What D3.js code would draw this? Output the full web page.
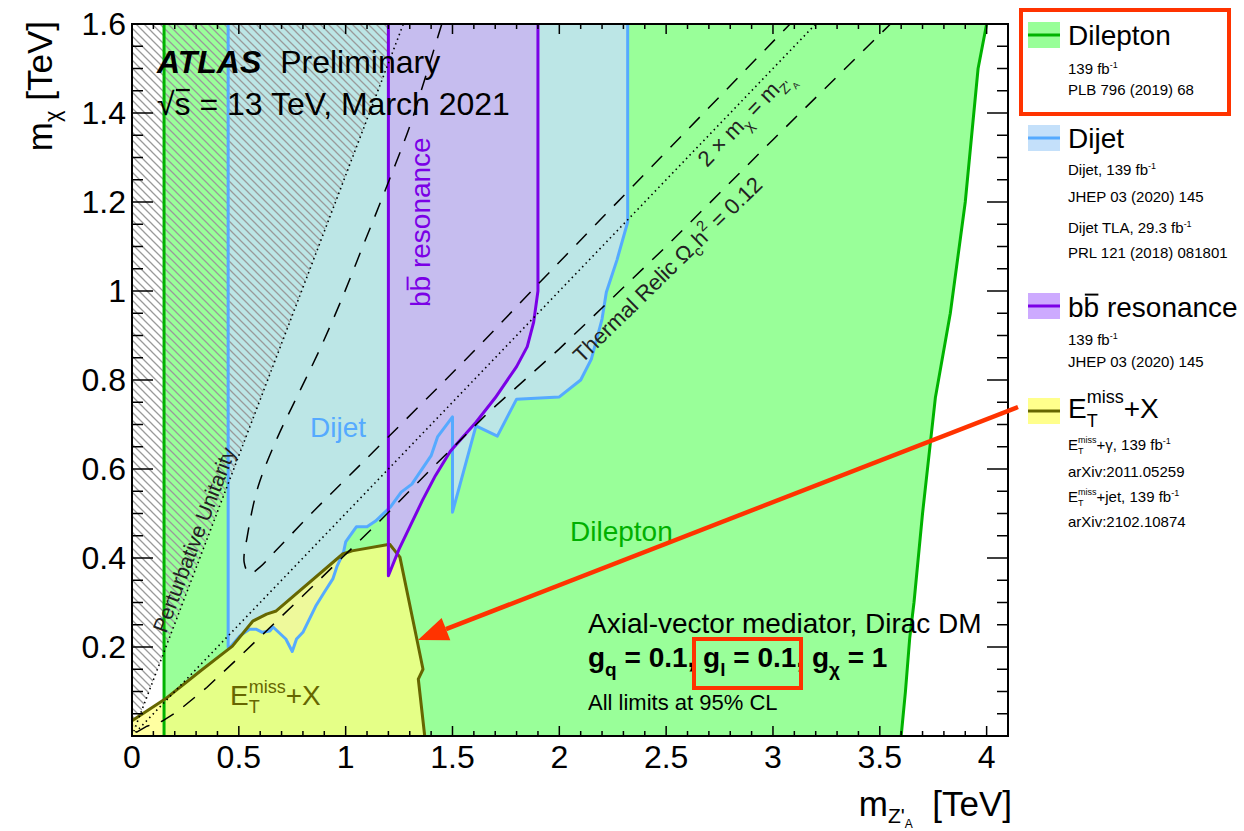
<!DOCTYPE html>
<meta charset="utf-8">
<style>
body { margin: 0; background: #fff; }
svg text { font-family: "Liberation Sans", Arial, Helvetica, sans-serif; white-space: pre; }
</style>
<svg id="plot" width="1244" height="831"></svg>
<script src="https://cdn.jsdelivr.net/npm/d3@7"></script>
<script>

// ---- data, everything in TeV : [m_Z'A, m_chi] ----
var xTicks = [0, 0.5, 1, 1.5, 2, 2.5, 3, 3.5, 4];
var xTickLabels = ["0", "0.5", "1", "1.5", "2", "2.5", "3", "3.5", "4"];
var yTicks = [0.2, 0.4, 0.6, 0.8, 1.0, 1.2, 1.4, 1.6];
var yTickLabels = ["0.2", "0.4", "0.6", "0.8", "1", "1.2", "1.4", "1.6"];

var dileptonLeft = [[0.15, 0], [0.15, 1.6]];
var dileptonRight = [[4.0, 1.6], [3.96, 1.5], [3.90, 1.2], [3.83, 0.95], [3.76, 0.76], [3.70, 0.5],
  [3.66, 0.3], [3.64, 0.22], [3.635, 0.19], [3.62, 0.1], [3.60, 0]];

var dijetEdge = [[0.45, 1.6], [0.45, 0.2], [0.46, 0.2], [0.505, 0.225], [0.55, 0.24], [0.58, 0.24],
  [0.61, 0.233], [0.645, 0.236], [0.66, 0.245], [0.72, 0.218], [0.75, 0.19], [0.77, 0.218],
  [0.80, 0.233], [0.86, 0.292], [0.90, 0.323], [0.94, 0.353], [0.96, 0.382], [0.99, 0.413],
  [1.0, 0.436], [1.05, 0.47], [1.10, 0.47], [1.14, 0.483], [1.21, 0.515], [1.26, 0.548],
  [1.31, 0.566], [1.40, 0.63], [1.43, 0.672], [1.50, 0.717], [1.50, 0.503], [1.61, 0.697],
  [1.71, 0.674], [1.80, 0.757], [2.0, 0.762], [2.10, 0.80], [2.15, 0.847], [2.20, 0.937],
  [2.22, 0.997], [2.27, 1.07], [2.32, 1.155], [2.32, 1.6]];

var bbEdge = [[1.2, 1.6], [1.2, 0.36], [1.25, 0.42], [1.30, 0.47], [1.36, 0.53], [1.42, 0.585],
  [1.49, 0.64], [1.61, 0.705], [1.70, 0.76], [1.80, 0.83], [1.85, 0.875], [1.88, 0.93],
  [1.9, 1.0], [1.9, 1.6]];

var etmissEdge = [[0, 0.034], [0.155, 0.083], [0.32, 0.146], [0.47, 0.202], [0.565, 0.258],
  [0.63, 0.274], [0.675, 0.281], [0.986, 0.409], [1.03, 0.416], [1.206, 0.431], [1.254, 0.402],
  [1.333, 0.218], [1.362, 0.15], [1.34, 0.128], [1.37, 0.0]];

var unitarityLine = [[0, 0], [1.27, 1.6]];
var twoMchiLine = [[0, 0], [3.2, 1.6]];

var relicUpper = [[1.45, 1.6], [1.36, 1.46], [1.30, 1.37], [1.18, 1.22], [1.08, 1.10], [0.98, 0.98],
  [0.88, 0.87], [0.78, 0.77], [0.68, 0.67], [0.59, 0.56], [0.54, 0.45], [0.525, 0.39],
  [0.55, 0.365], [0.60, 0.38], [0.66, 0.41], [0.86, 0.51], [1.08, 0.615], [1.58, 0.855],
  [1.95, 1.04], [3.08, 1.6]];
var relicLower = [[0.02, 0.008], [0.07, 0.022], [0.14, 0.033], [0.21, 0.054], [0.35, 0.109],
  [0.49, 0.172], [0.8, 0.315], [1.16, 0.483], [1.39, 0.595], [1.67, 0.728], [2.0, 0.87],
  [2.5, 1.10], [3.0, 1.34], [3.55, 1.6]];

// ---- setup ----
var svg = d3.select("svg");
var x = d3.scaleLinear().domain([0, 4.1]).range([132, 1008]);
var y = d3.scaleLinear().domain([0, 1.6]).range([736, 24]);
var line = d3.line().x(function(d) { return x(d[0]); }).y(function(d) { return y(d[1]); });
var smooth = d3.line().x(function(d) { return x(d[0]); }).y(function(d) { return y(d[1]); })
    .curve(d3.curveCatmullRom);

var red = "#ff3300";

var defs = svg.append("defs");
defs.append("pattern")
    .attr("id", "hatch")
    .attr("patternUnits", "userSpaceOnUse")
    .attr("width", 8).attr("height", 8)
  .append("path")
    .attr("d", "M-1,-1 L9,9 M-1,7 L1,9 M7,-1 L9,1")
    .attr("stroke", "#9a9a9a")
    .attr("stroke-width", 1.3);

var g = svg.append("g");

// fills
g.append("path").attr("d", line(dileptonLeft.concat(dileptonRight)) + "Z").attr("fill", "#99ff99");
g.append("path").attr("d", line(dijetEdge) + "Z").attr("fill", "#bce6e6");
g.append("path").attr("d", line([[0, 0], [0, 1.6], unitarityLine[1]]) + "Z").attr("fill", "url(#hatch)");
g.append("path").attr("d", line(etmissEdge.concat([[0, 0]])) + "Z").attr("fill", "#ffff80").attr("fill-opacity", 0.74);
g.append("path").attr("d", line(bbEdge) + "Z").attr("fill", "#c6bdef");

// contour lines
function contour(pts, col) {
  g.append("path").attr("d", line(pts)).attr("fill", "none")
    .attr("stroke", col).attr("stroke-width", 3).attr("stroke-linejoin", "round");
}
contour(dileptonLeft, "#00b300");
contour(dileptonRight, "#00b300");
contour(dijetEdge, "#55aaff");
contour(etmissEdge, "#666600");
contour(bbEdge, "#7b00e6");

// reference curves
g.append("path").attr("d", line(unitarityLine)).attr("fill", "none")
  .attr("stroke", "#000").attr("stroke-width", 1.6).attr("stroke-dasharray", "1.5,3.5");
g.append("path").attr("d", line(twoMchiLine)).attr("fill", "none")
  .attr("stroke", "#000").attr("stroke-width", 1.6).attr("stroke-dasharray", "1.5,3.5");
g.append("path").attr("d", smooth(relicUpper)).attr("fill", "none")
  .attr("stroke", "#000").attr("stroke-width", 1.5).attr("stroke-dasharray", "15,12");
g.append("path").attr("d", line(relicLower)).attr("fill", "none")
  .attr("stroke", "#000").attr("stroke-width", 1.5).attr("stroke-dasharray", "15,12");

// frame and ticks
var x0 = x(0), x1 = x(4.1), y0 = y(0), y1 = y(1.6);
var ax = svg.append("g").attr("stroke", "#000").attr("stroke-width", 1.5);
d3.range(0, 33).forEach(function(i) {
  var yy = y(i * 0.05), len = i % 4 === 0 ? 21 : 11;
  ax.append("line").attr("x1", x0).attr("x2", x0 + len).attr("y1", yy).attr("y2", yy);
  ax.append("line").attr("x1", x1).attr("x2", x1 - len).attr("y1", yy).attr("y2", yy);
});
d3.range(0, 42).forEach(function(i) {
  var xx = x(i * 0.1), len = i % 5 === 0 ? 10 : 5;
  ax.append("line").attr("x1", xx).attr("x2", xx).attr("y1", y0).attr("y2", y0 - len);
  ax.append("line").attr("x1", xx).attr("x2", xx).attr("y1", y1).attr("y2", y1 + len);
});
svg.append("rect").attr("x", x0).attr("y", y1).attr("width", x1 - x0).attr("height", y0 - y1)
  .attr("fill", "none").attr("stroke", "#000").attr("stroke-width", 2);

svg.selectAll(".xl").data(xTicks).enter().append("text")
  .attr("x", function(d) { return x(d); }).attr("y", 768)
  .attr("text-anchor", "middle").style("font-size", "32px")
  .text(function(d, i) { return xTickLabels[i]; });
svg.selectAll(".yl").data(yTicks).enter().append("text")
  .attr("x", 126).attr("y", function(d) { return y(d) + 11; })
  .attr("text-anchor", "end").style("font-size", "32px")
  .text(function(d, i) { return yTickLabels[i]; });

// rich text helper (sub/superscripts built from pieces)
function rich(parent, px, py, parts, o) {
  var outer = parent.append("g")
    .attr("transform", "translate(" + px + "," + py + ")" + (o.rotate ? " rotate(" + o.rotate + ")" : ""));
  var inner = outer.append("g");
  var cx = 0, hold = null;
  parts.forEach(function(p) {
    var size = p.size || o.size;
    cx += p.dx || 0;
    var col = p.fill || o.fill || "#000";
    var t = inner.append("text")
      .attr("x", cx).attr("y", p.dy || 0)
      .attr("fill", col)
      .style("font-size", size + "px")
      .style("font-weight", (p.bold || o.bold) ? "bold" : "normal")
      .style("font-style", p.italic ? "italic" : "normal")
      .text(p.t);
    var w = t.node().getComputedTextLength();
    if (p.bar) {
      inner.append("line").attr("x1", cx + w * 0.08).attr("x2", cx + w * 0.95)
        .attr("y1", -size * p.bar).attr("y2", -size * p.bar)
        .attr("stroke", col).attr("stroke-width", Math.max(1, size * 0.07));
    }
    if (p.stack) hold = { x: cx, w: w };
    else if (hold) { cx = hold.x + Math.max(hold.w, w); hold = null; }
    else cx += w;
  });
  if (o.anchor === "end") inner.attr("transform", "translate(" + (-cx) + ",0)");
  return outer;
}

// axis titles
rich(svg, 52, 21, [{ t: "m" }, { t: "\u03c7", size: 22, dy: 8 }, { t: " [TeV]" }],
  { size: 35, rotate: -90, anchor: "end" });
rich(svg, 1012, 816, [{ t: "m" }, { t: "Z'", size: 21, dy: 7 }, { t: "A", size: 12, dy: 12 }, { t: "  [TeV]" }],
  { size: 35, anchor: "end" });

// plot annotations
rich(svg, 157, 73, [{ t: "ATLAS", bold: true, italic: true }, { t: " Preliminary", dx: 10 }], { size: 32 });
rich(svg, 157, 115, [{ t: "\u221a" }, { t: "s", bar: 0.78 }, { t: " = 13 TeV, March 2021" }], { size: 32 });

rich(svg, 166, 634, [{ t: "Perturbative Unitarity" }], { size: 21, fill: "#222", rotate: -69.1 });
rich(svg, 707, 168, [{ t: "2 \u00d7 m" }, { t: "\u03c7", size: 15, dy: 6 }, { t: " = m" },
  { t: "Z'", size: 14, dy: 6 }, { t: "A", size: 9, dy: 10 }], { size: 22, fill: "#222", rotate: -46.2 });
rich(svg, 582, 364, [{ t: "Thermal Relic \u03a9" }, { t: "c", size: 15, dy: 6 }, { t: "h" },
  { t: "2", size: 15, dy: -10 }, { t: " = 0.12" }], { size: 22, fill: "#222", rotate: -44.4 });

rich(svg, 430, 307, [{ t: "b" }, { t: "b", bar: 0.8 }, { t: " resonance" }],
  { size: 28, fill: "#7b00e6", rotate: -90 });
rich(svg, 310, 437, [{ t: "Dijet" }], { size: 28, fill: "#55aaff" });
rich(svg, 570, 541, [{ t: "Dilepton" }], { size: 28, fill: "#00b000" });
rich(svg, 230, 705, [{ t: "E" }, { t: "miss", size: 18, dy: -12, stack: true }, { t: "T", size: 18, dy: 8 },
  { t: "+X" }], { size: 28, fill: "#666600" });

rich(svg, 588, 633, [{ t: "Axial-vector mediator, Dirac DM" }], { size: 28 });
rich(svg, 588, 667, [{ t: "g" }, { t: "q", size: 19, dy: 9 }, { t: " = 0.1, g" }, { t: "l", size: 19, dy: 9 },
  { t: " = 0.1, g" }, { t: "\u03c7", size: 19, dy: 9 }, { t: " = 1" }], { size: 28, bold: true });
rich(svg, 588, 710, [{ t: "All limits at 95% CL" }], { size: 22 });

// red highlight annotations
svg.append("rect").attr("x", 694).attr("y", 639).attr("width", 107).attr("height", 49)
  .attr("fill", "none").attr("stroke", red).attr("stroke-width", 4);

var tail = [1018, 407], tip = [418, 640];
var dx = tip[0] - tail[0], dy = tip[1] - tail[1], L = Math.sqrt(dx * dx + dy * dy);
var ux = dx / L, uy = dy / L, nx = -uy, ny = ux;
var bx = tip[0] - 30 * ux, by = tip[1] - 30 * uy;
svg.append("line").attr("x1", tail[0]).attr("y1", tail[1]).attr("x2", bx).attr("y2", by)
  .attr("stroke", red).attr("stroke-width", 4.5);
svg.append("path")
  .attr("d", "M" + tip + "L" + [bx + 12 * nx, by + 12 * ny] + "L" + [bx - 12 * nx, by - 12 * ny] + "Z")
  .attr("fill", red);

// legend
var legendFills = ["#99ff99", "#c4e0fa", "#cdaaff", "#ffff8c"];
var legendLines = ["#00b300", "#55aaff", "#7b00e6", "#666600"];
var legendTop = [22, 125, 293, 398];
var legendTitleY = [45, 148, 317, 418];

var lg = svg.append("g");
legendTop.forEach(function(t, i) {
  lg.append("rect").attr("x", 1028).attr("y", t).attr("width", 32).attr("height", 26).attr("fill", legendFills[i]);
  lg.append("line").attr("x1", 1028).attr("x2", 1060).attr("y1", t + 13).attr("y2", t + 13)
    .attr("stroke", legendLines[i]).attr("stroke-width", 3);
});
rich(lg, 1068, legendTitleY[0], [{ t: "Dilepton" }], { size: 28 });
rich(lg, 1068, legendTitleY[1], [{ t: "Dijet" }], { size: 28 });
rich(lg, 1068, legendTitleY[2], [{ t: "b" }, { t: "b", bar: 0.8 }, { t: " resonance" }], { size: 28 });
rich(lg, 1068, legendTitleY[3], [{ t: "E" }, { t: "miss", size: 18, dy: -15, stack: true }, { t: "T", size: 18, dy: 9 },
  { t: "+X" }], { size: 28 });

var fb = [{ t: "-1", size: 9, dy: -6 }];
function sub(yy, parts) { rich(lg, 1068, yy, parts, { size: 15 }); }
sub(74, [{ t: "139 fb" }].concat(fb));
sub(95, [{ t: "PLB 796 (2019) 68" }]);
sub(175, [{ t: "Dijet, 139 fb" }].concat(fb));
sub(202, [{ t: "JHEP 03 (2020) 145" }]);
sub(233, [{ t: "Dijet TLA, 29.3 fb" }].concat(fb));
sub(258, [{ t: "PRL 121 (2018) 081801" }]);
sub(345, [{ t: "139 fb" }].concat(fb));
sub(367, [{ t: "JHEP 03 (2020) 145" }]);
sub(450, [{ t: "E" }, { t: "miss", size: 9, dy: -7, stack: true }, { t: "T", size: 9, dy: 4 },
  { t: "+\u03b3, 139 fb" }].concat(fb));
sub(477, [{ t: "arXiv:2011.05259" }]);
sub(502, [{ t: "E" }, { t: "miss", size: 9, dy: -7, stack: true }, { t: "T", size: 9, dy: 4 },
  { t: "+jet, 139 fb" }].concat(fb));
sub(527, [{ t: "arXiv:2102.10874" }]);

lg.append("rect").attr("x", 1021).attr("y", 10).attr("width", 208).attr("height", 104)
  .attr("fill", "none").attr("stroke", red).attr("stroke-width", 4);

</script>
